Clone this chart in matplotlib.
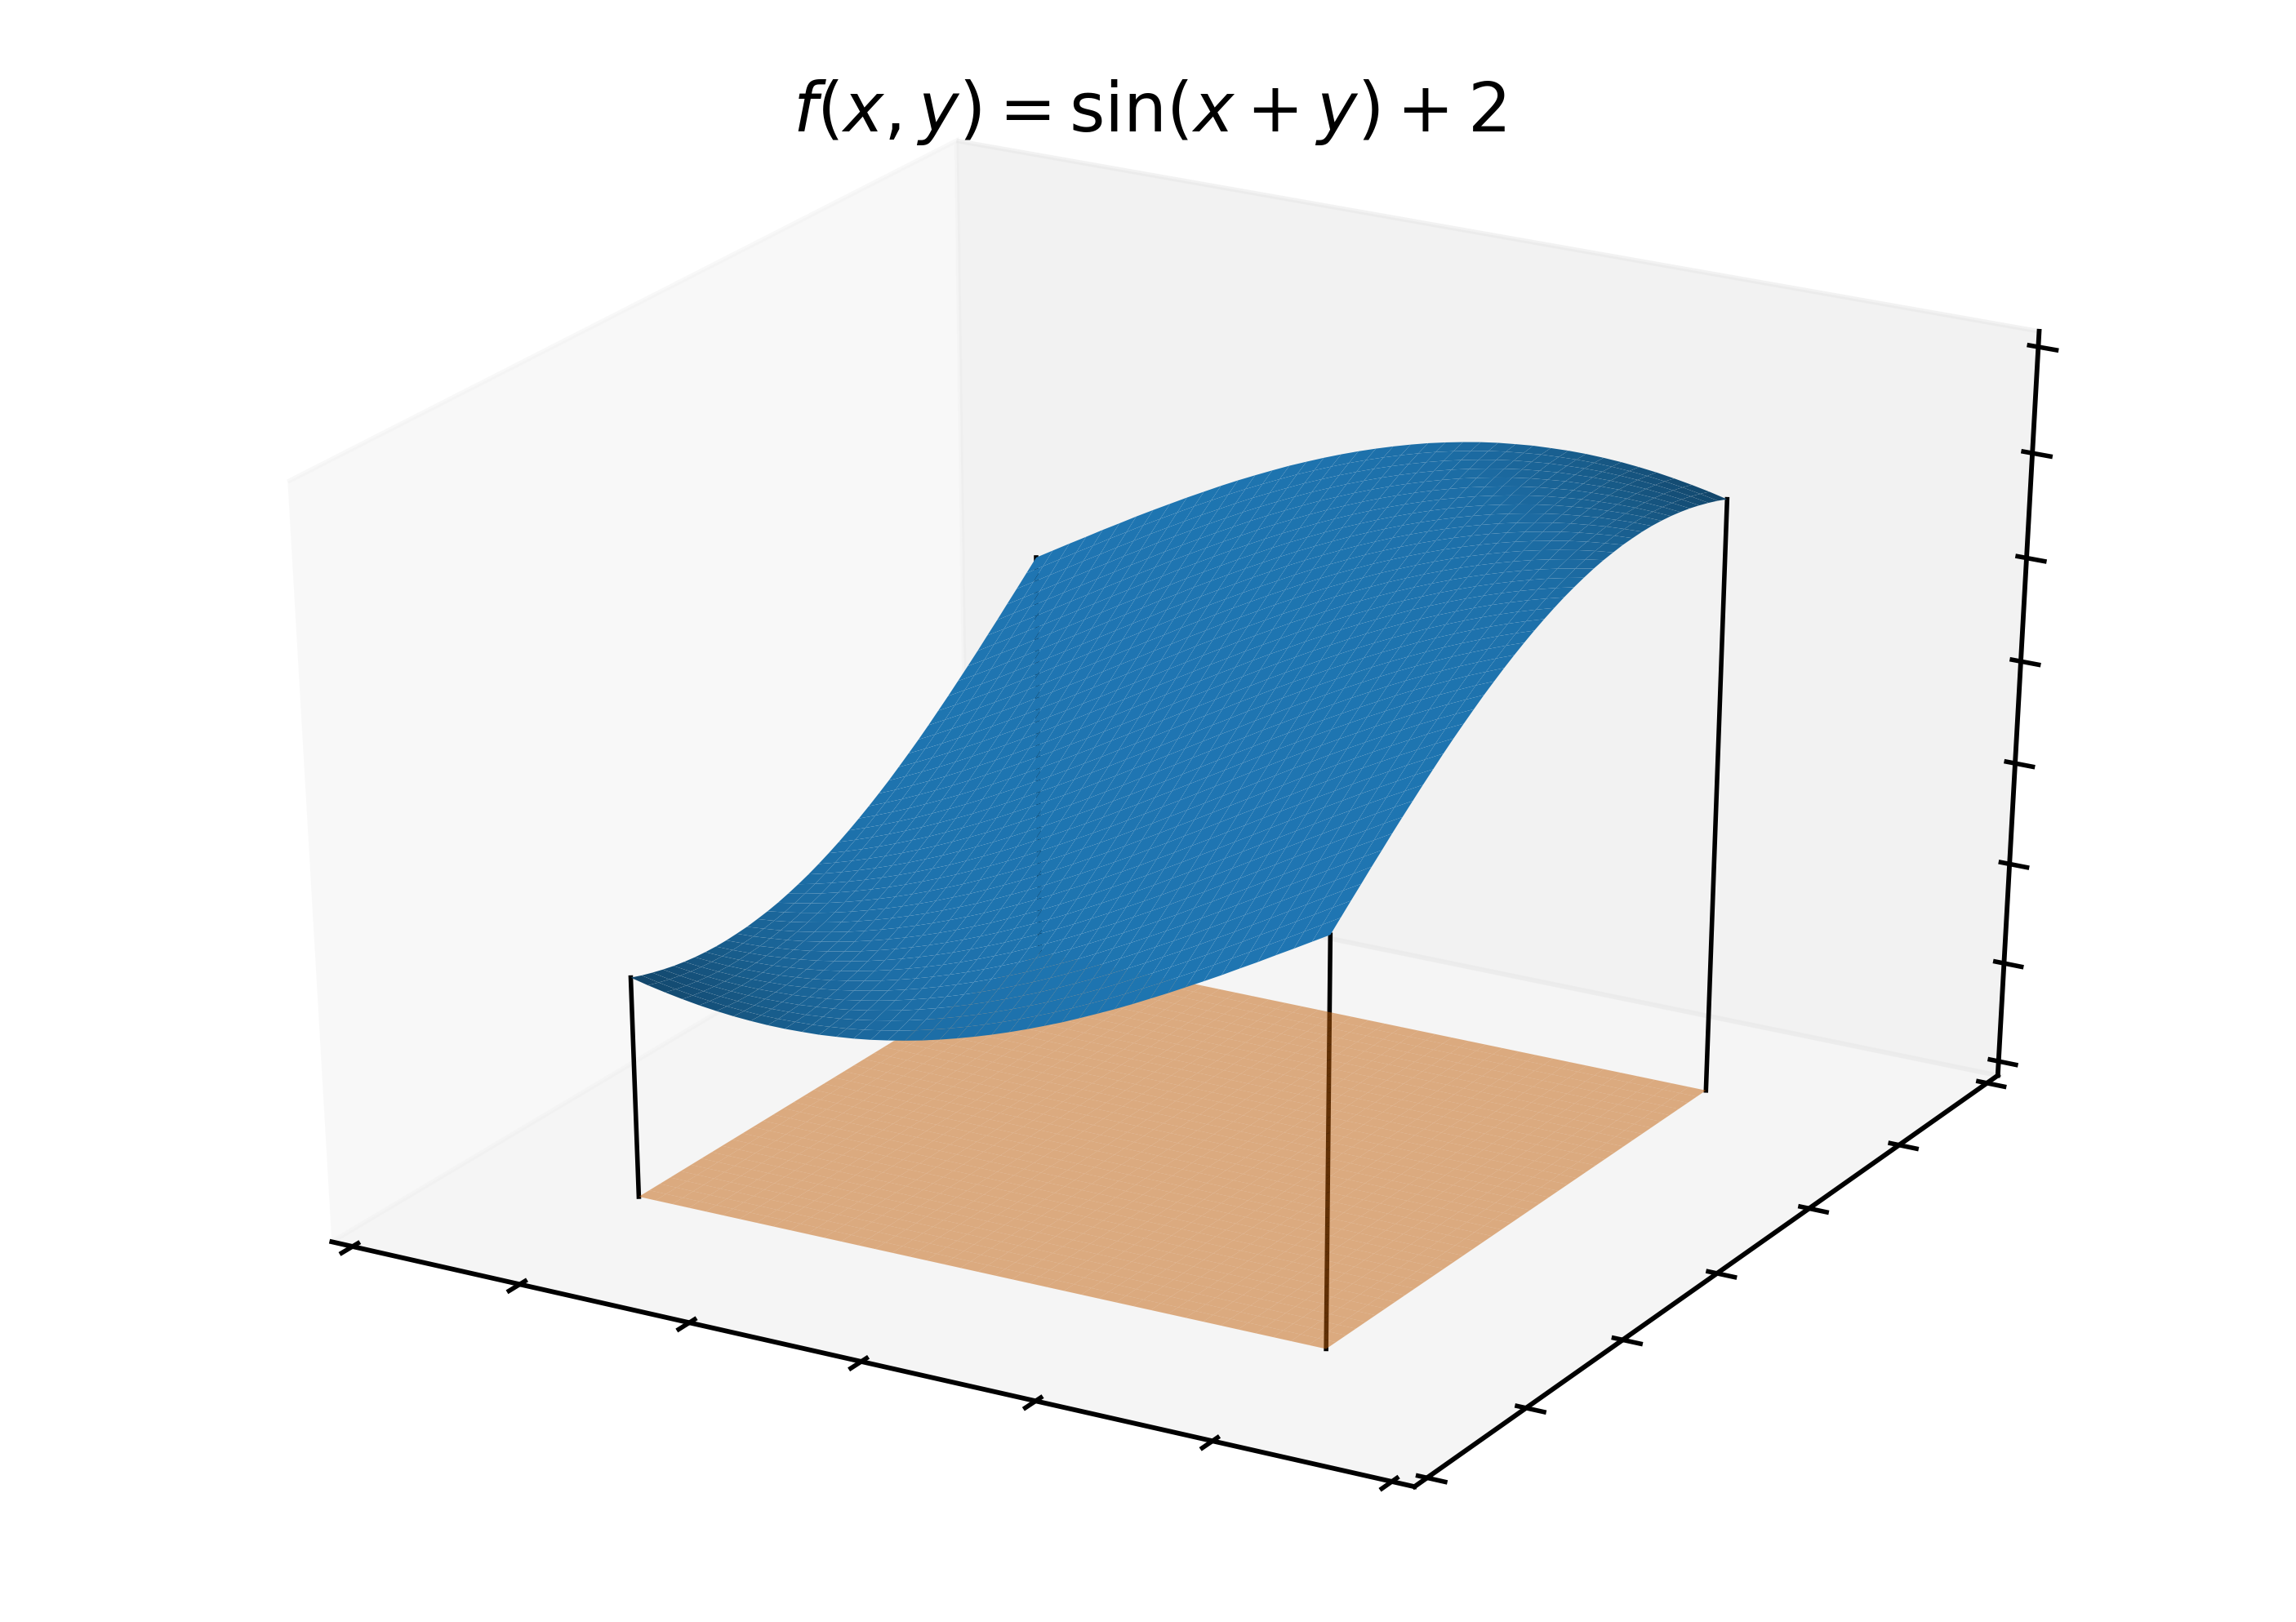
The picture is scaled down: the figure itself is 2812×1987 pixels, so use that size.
import numpy as np
import matplotlib
matplotlib.use("Agg")
import matplotlib.pyplot as plt

# grid positions along x and y
x_vals = [-1.00, -0.95, -0.90, -0.85, -0.80, -0.75, -0.70, -0.65, -0.60, -0.55, -0.50,
          -0.45, -0.40, -0.35, -0.30, -0.25, -0.20, -0.15, -0.10, -0.05, 0.00,
          0.05, 0.10, 0.15, 0.20, 0.25, 0.30, 0.35, 0.40, 0.45, 0.50,
          0.55, 0.60, 0.65, 0.70, 0.75, 0.80, 0.85, 0.90, 0.95, 1.00]
y_vals = list(x_vals)

# surface height per grid step along the diagonal (i + j), the surface only depends on x + y
z_by_step = [1.091, 1.071, 1.054, 1.039, 1.026, 1.016, 1.008, 1.003, 1.000, 1.000, 1.003,
             1.007, 1.015, 1.024, 1.036, 1.051, 1.068, 1.087, 1.109, 1.133, 1.159,
             1.187, 1.217, 1.249, 1.283, 1.318, 1.356, 1.395, 1.435, 1.477, 1.521,
             1.565, 1.611, 1.657, 1.704, 1.753, 1.801, 1.851, 1.900, 1.950, 2.000,
             2.050, 2.100, 2.149, 2.199, 2.247, 2.296, 2.343, 2.389, 2.435, 2.479,
             2.523, 2.565, 2.605, 2.644, 2.682, 2.717, 2.751, 2.783, 2.813, 2.841,
             2.867, 2.891, 2.913, 2.932, 2.949, 2.964, 2.976, 2.985, 2.993, 2.997,
             3.000, 3.000, 2.997, 2.992, 2.984, 2.974, 2.961, 2.946, 2.929, 2.909]

xlim = (-1.5, 1.5)
ylim = (-1.5, 1.5)
zlim = (0.0, 3.5)
x_ticks = [-1.5, -1.0, -0.5, 0.0, 0.5, 1.0, 1.5]
y_ticks = [-1.5, -1.0, -0.5, 0.0, 0.5, 1.0, 1.5]
z_ticks = [0.0, 0.5, 1.0, 1.5, 2.0, 2.5, 3.0, 3.5]

title = r"$f(x, y) = \sin(x + y) + 2$"

plt.rcParams.update({"axes.linewidth": 1.05, "xtick.major.width": 1.0, "ytick.major.width": 1.0})

X, Y = np.meshgrid(x_vals, y_vals)
n = len(x_vals)
Z = np.array([[z_by_step[i + j] for j in range(n)] for i in range(n)])

fig = plt.figure(figsize=(7.03, 4.9675), dpi=400)
ax = fig.add_axes([-0.00424, 0.00415, 1.0071, 0.98996], projection="3d", computed_zorder=False)
# unit cube stretched over the whole axes rectangle, like the old mplot3d did
ax.apply_aspect = lambda position=None: None
ax.view_init(elev=30, azim=-60)
ax.set_box_aspect((1, 1, 1), zoom=0.9088)

# corner posts first, the floor and the surface go over them
for i, j in [(0, 0), (n - 1, 0), (0, n - 1), (n - 1, n - 1)]:
    ax.plot([x_vals[i], x_vals[i]], [y_vals[j], y_vals[j]], [0.0, z_by_step[i + j]], color="k", lw=1.0, zorder=1)

ax.plot_surface(X, Y, np.zeros_like(Z), color="C1", alpha=0.5, rstride=1, cstride=1, linewidth=0, zorder=2)
ax.plot_surface(X, Y, Z, color="C0", rstride=1, cstride=1, linewidth=0, zorder=3)

ax.set_xlim(*xlim, view_margin=1 / 48)
ax.set_ylim(*ylim, view_margin=1 / 48)
ax.set_zlim(*zlim, view_margin=1 / 48)
ax.set_xticks(x_ticks)
ax.set_yticks(y_ticks)
ax.set_zticks(z_ticks)
ax.set_xticklabels([])
ax.set_yticklabels([])
ax.set_zticklabels([])
ax.grid(False)
fig.text(785 / 1568, 1 - 90 / 1108, title, ha="center", va="baseline", fontsize=15)

plt.savefig("out.png", dpi=400)
